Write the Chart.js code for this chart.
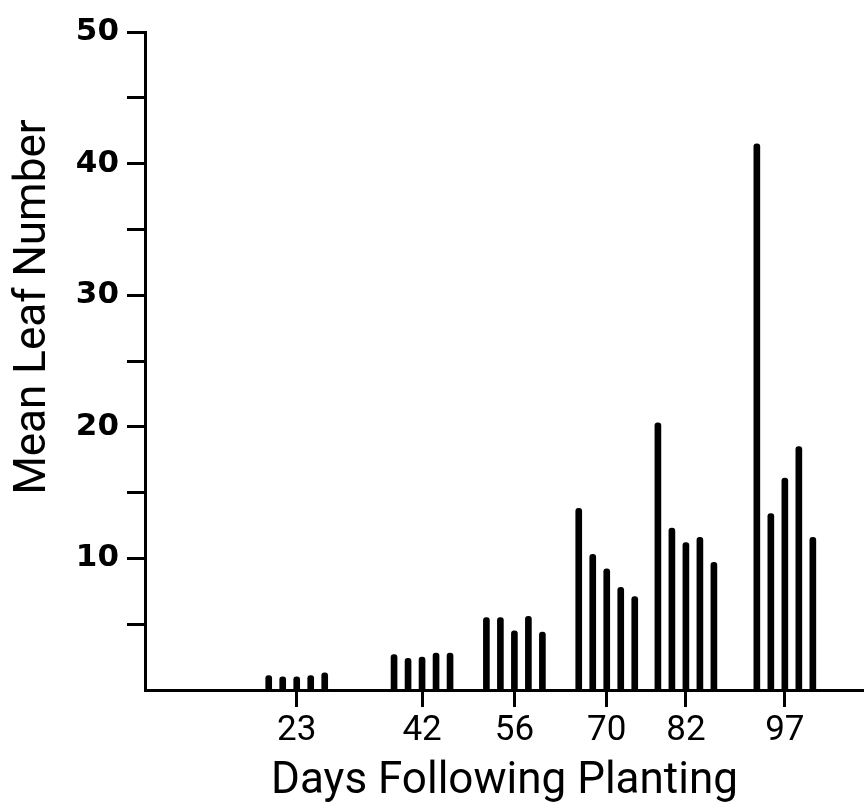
<!DOCTYPE html>
<html>
<head>
<meta charset="utf-8">
<title>Mean Leaf Number</title>
<script src="https://cdn.jsdelivr.net/npm/chart.js@4/dist/chart.umd.min.js"></script>
<style>
  body { margin: 0; background: #fff; }
  canvas { display: block; }
</style>
</head>
<body>
<canvas id="leafChart" width="864" height="805"></canvas>
<script>
// sampling days (x tick labels)
const days = [23, 42, 56, 70, 82, 97];

// five bars per sampling day
const series1 = [1.1, 2.7, 5.5, 13.8, 20.3, 41.5];
const series2 = [1.0, 2.4, 5.5, 10.3, 12.3, 13.4];
const series3 = [1.0, 2.5, 4.5, 9.2, 11.2, 16.1];
const series4 = [1.1, 2.8, 5.6, 7.8, 11.6, 18.5];
const series5 = [1.3, 2.8, 4.4, 7.1, 9.7, 11.6];

const yLabelTicks = [10, 20, 30, 40, 50];

const allSeries = [series1, series2, series3, series4, series5];

// y axis title is placed off-centre in the original, so draw it here
const yTitlePlugin = {
    id: 'yTitle',
    afterDraw(chart) {
        const ctx = chart.ctx;
        ctx.save();
        ctx.translate(45, 307);
        ctx.rotate(-Math.PI / 2);
        ctx.font = '44px Roboto';
        ctx.fillStyle = '#000';
        ctx.textAlign = 'center';
        ctx.textBaseline = 'alphabetic';
        ctx.fillText('Mean Leaf Number', 0, 0);
        ctx.restore();
    }
};

const ctx = document.getElementById('leafChart').getContext('2d');
const chart = new Chart(ctx, {
    type: 'bar',
    data: {
        datasets: allSeries.map((s, i) => ({
            label: 'Series ' + (i + 1),
            data: days.map((d, j) => ({ x: d, y: s[j] })),
            backgroundColor: '#000',
            borderRadius: 3,
            borderSkipped: 'start'
        }))
    },
    options: {
        responsive: false,
        animation: false,
        barThickness: 14,
        maxBarThickness: 6,
        layout: { padding: { top: 32, left: 0, right: 0, bottom: 0 } },
        plugins: {
            legend: { display: false },
            tooltip: { enabled: false }
        },
        scales: {
            x: {
                type: 'linear',
                min: 0,
                max: 109,
                offset: false,
                afterBuildTicks: scale => {
                    scale.ticks = days.map(v => ({ value: v }));
                },
                afterFit: scale => { scale.height = 115; },
                grid: {
                    offset: false,
                    drawOnChartArea: false,
                    tickLength: 17,
                    tickWidth: 3,
                    tickColor: '#000'
                },
                border: { color: '#000', width: 3 },
                ticks: {
                    autoSkip: false,
                    maxRotation: 0,
                    padding: 3,
                    color: '#000',
                    font: { family: 'Roboto', size: 35 }
                },
                title: {
                    display: true,
                    text: 'Days Following Planting',
                    color: '#000',
                    font: { family: 'Roboto', size: 44, lineHeight: 1.0 },
                    padding: { top: 0, bottom: 1 }
                }
            },
            y: {
                min: 0,
                max: 50,
                afterFit: scale => { scale.width = 145; },
                grid: {
                    drawOnChartArea: false,
                    tickLength: 18,
                    tickWidth: 3,
                    tickColor: c => (c.tick && c.tick.value === 0 ? 'rgba(0,0,0,0)' : '#000')
                },
                border: { color: '#000', width: 3 },
                ticks: {
                    stepSize: 5,
                    padding: 8,
                    color: '#000',
                    font: { family: 'DejaVu Sans', size: 31, weight: 'bold' },
                    callback: v => (yLabelTicks.includes(v) ? String(v) : '')
                }
            }
        }
    },
    plugins: [yTitlePlugin]
});
</script>
</body>
</html>
